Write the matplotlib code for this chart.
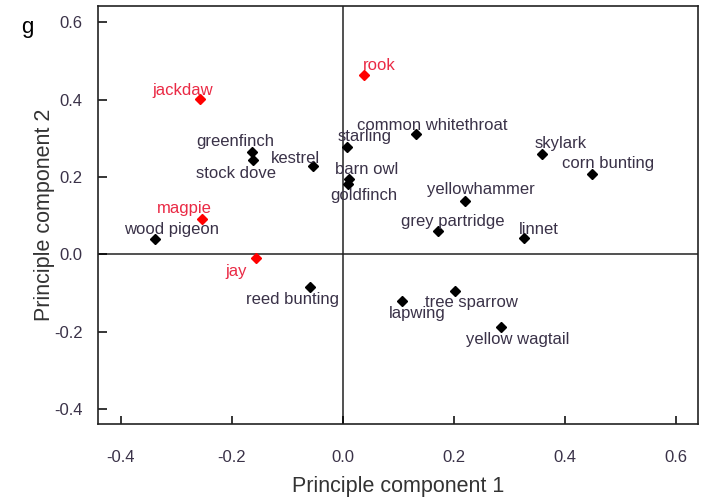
import matplotlib
matplotlib.use("Agg")
import matplotlib.pyplot as plt

# PCA scores
birds = ["jackdaw", "greenfinch", "stock dove", "kestrel", "magpie", "wood pigeon",
         "starling", "barn owl", "goldfinch", "rook", "common whitethroat", "skylark",
         "corn bunting", "yellowhammer", "grey partridge", "linnet", "jay",
         "reed bunting", "lapwing", "tree sparrow", "yellow wagtail"]
pc1 = [-0.258, -0.163, -0.161, -0.054, -0.254, -0.338,
       0.007, 0.012, 0.010, 0.038, 0.133, 0.360,
       0.450, 0.220, 0.172, 0.327, -0.157,
       -0.059, 0.107, 0.203, 0.285]
pc2 = [0.401, 0.265, 0.244, 0.228, 0.092, 0.039,
       0.278, 0.195, 0.181, 0.464, 0.311, 0.260,
       0.208, 0.139, 0.060, 0.043, -0.009,
       -0.084, -0.121, -0.094, -0.189]
corvids = ["jackdaw", "magpie", "rook", "jay"]

# label offsets in pixels (dx, dy) from each point
offsets = {
    "jackdaw": (-17, 9), "greenfinch": (-17, 10), "stock dove": (-17, -14),
    "kestrel": (-17, 8), "magpie": (-17, 10), "wood pigeon": (16, 10),
    "starling": (18, 10), "barn owl": (17, 9), "goldfinch": (16, -11),
    "rook": (16, 9), "common whitethroat": (16, 8), "skylark": (18, 10),
    "corn bunting": (16, 10), "yellowhammer": (16, 11), "grey partridge": (15, 10),
    "linnet": (15, 8), "jay": (-19, -14), "reed bunting": (-17, -13),
    "lapwing": (15, -12), "tree sparrow": (16, -12), "yellow wagtail": (17, -12),
}

plt.rcParams["font.family"] = ["Liberation Sans", "DejaVu Sans"]
txt_col = "#3a3248"
red_txt = "#ea2a45"

fig = plt.figure(figsize=(7.04, 4.97), dpi=100)
ax = fig.add_axes([0.1392, 0.1469, 0.8519, 0.841])

ax.axhline(0, color="#222222", lw=1.1, zorder=1)
ax.axvline(0, color="#222222", lw=1.1, zorder=1)

for name, x, y in zip(birds, pc1, pc2):
    red = name in corvids
    ax.plot(x, y, marker="D", ms=5, color="#ff0000" if red else "black",
            ls="none", zorder=3)
    dx, dy = offsets[name]
    ax.annotate(name, (x, y), xytext=(dx, dy), textcoords="offset pixels",
                ha="center", va="center", fontsize=12,
                color=red_txt if red else txt_col)

ax.set_xlim(-0.441, 0.640)
ax.set_ylim(-0.439, 0.642)
ax.set_xticks([-0.4, -0.2, 0.0, 0.2, 0.4, 0.6])
ax.set_yticks([-0.4, -0.2, 0.0, 0.2, 0.4, 0.6])
ax.set_xticklabels(["-0.4", "-0.2", "0.0", "0.2", "0.4", "0.6"])
ax.set_yticklabels(["-0.4", "-0.2", "0.0", "0.2", "0.4", "0.6"])
ax.tick_params(axis="x", direction="in", length=6, width=1.1, pad=19,
               labelsize=12, labelcolor=txt_col)
ax.tick_params(axis="y", direction="in", length=6.5, width=1.1, pad=11,
               labelsize=12, labelcolor=txt_col)
for s in ax.spines.values():
    s.set_linewidth(1.2)
    s.set_color("#222222")

ax.set_xlabel("Principle component 1", fontsize=15.5, color="#333333", labelpad=8)
ax.set_ylabel("Principle component 2", fontsize=15.5, color="#333333")
ax.yaxis.set_label_coords(-0.072, 0.5)

fig.text(0.039, 0.945, "g", fontsize=16, color="black", ha="center", va="center")

fig.savefig("out.png", dpi=100)
